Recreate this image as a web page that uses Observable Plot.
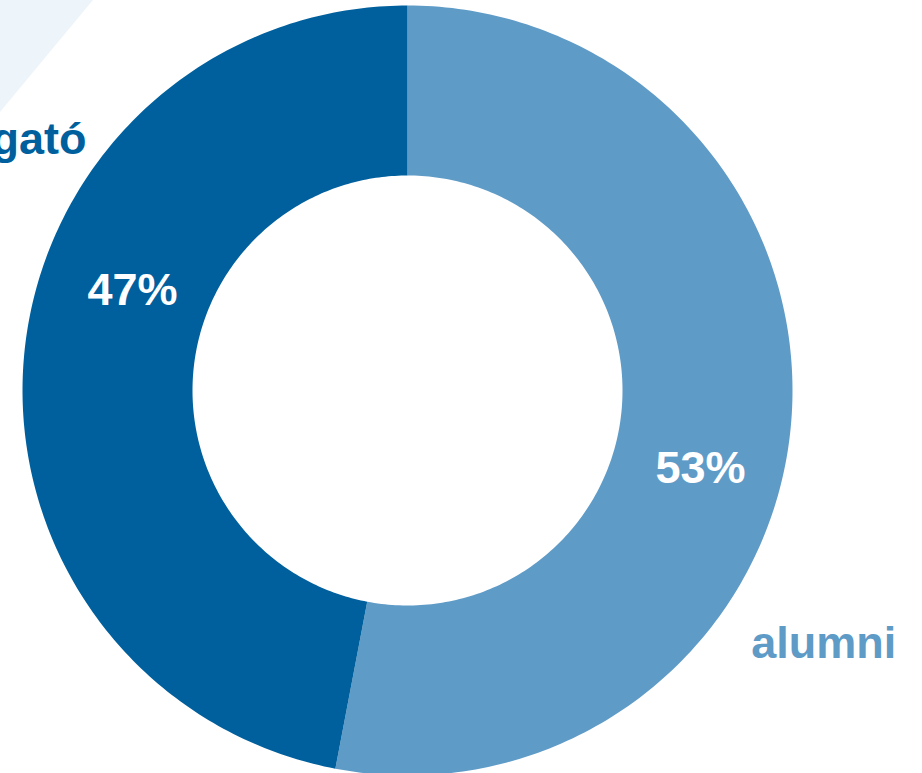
<!DOCTYPE html>
<html>
<head>
<meta charset="utf-8">
<script src="https://cdn.jsdelivr.net/npm/d3@7"></script>
<script src="https://cdn.jsdelivr.net/npm/@observablehq/plot@0.6"></script>
<style>
  html, body { margin: 0; padding: 0; background: #ffffff; overflow: hidden; }
  #wrap { position: relative; width: 922px; height: 773px; }
  #deco { position: absolute; left: 0; top: 0; width: 93px; height: 112px; background: #edf5fb; clip-path: polygon(0 0, 100% 0, 0 100%); }
  #chart { position: absolute; left: 0; top: 0; }
</style>
</head>
<body>
<div id="wrap"><div id="deco"></div><div id="chart"></div></div>
<script>
// Data
const categories = ["alumni", "hallgató"];
const values = [53, 47];
const percentLabels = ["53%", "47%"];
const colors = ["#5f9bc7", "#00609d"];

const innerR = 215 / 385, outerR = 1;
const total = d3.sum(values);

// Build slice polygons (unit coordinates, y up), starting at top, clockwise
const slices = [];
const labelRows = [];
let start = 0;
categories.forEach((c, i) => {
  const a0 = start, a1 = start + values[i] / total * 2 * Math.PI;
  const n = 200;
  const pts = [];
  for (let k = 0; k <= n; k++) { const a = a0 + (a1 - a0) * k / n; pts.push({cat: c, x: outerR * Math.sin(a), y: outerR * Math.cos(a)}); }
  for (let k = n; k >= 0; k--) { const a = a0 + (a1 - a0) * k / n; pts.push({cat: c, x: innerR * Math.sin(a), y: innerR * Math.cos(a)}); }
  slices.push(...pts);
  const mid = (a0 + a1) / 2 + 12 * Math.PI / 180;
  const r = 0.773;
  labelRows.push({text: percentLabels[i], x: r * Math.sin(mid), y: r * Math.cos(mid)});
  start = a1;
});

const catLabels = [
  {text: categories[1], x: -0.834, y: 0.652, anchor: "end", color: colors[1]},
  {text: categories[0], x: 0.893, y: -0.657, anchor: "start", color: colors[0]}
];

const chart = Plot.plot({
  width: 922,
  height: 773,
  margin: 0,
  style: {background: "transparent", fontFamily: "Arial, 'Liberation Sans', sans-serif"},
  x: {domain: [-1, 1], range: [22, 792], axis: null},
  y: {domain: [-1, 1], range: [775, 5], axis: null},
  color: {domain: categories, range: colors},
  marks: [
    Plot.line(slices, {x: "x", y: "y", z: "cat", fill: "cat", stroke: "none", curve: "linear-closed"}),
    Plot.text(labelRows, {x: "x", y: "y", text: "text", fill: "white", fontSize: 45, fontWeight: "bold", dx: 9, dy: -11}),
    Plot.text(catLabels.filter(d => d.anchor === "end"), {x: "x", y: "y", text: "text", fill: d => d.color, textAnchor: "end", fontSize: 45, fontWeight: "bold"}),
    Plot.text(catLabels.filter(d => d.anchor === "start"), {x: "x", y: "y", text: "text", fill: d => d.color, textAnchor: "start", fontSize: 45, fontWeight: "bold"})
  ]
});
document.getElementById("chart").appendChild(chart);
</script>
</body>
</html>
